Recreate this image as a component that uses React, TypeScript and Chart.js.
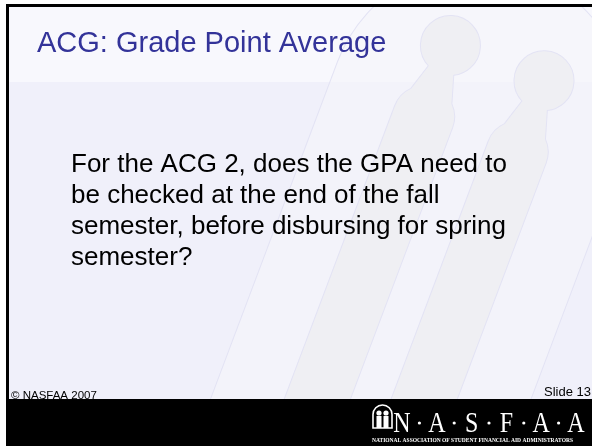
import React, { useEffect, useRef } from "react";
import { Chart, registerables } from "chart.js";

Chart.register(...registerables);

const TITLE = "ACG: Grade Point Average";
const BODY_LINES = [
  "For the ACG 2, does the GPA need to",
  "be checked at the end of the fall",
  "semester, before disbursing for spring",
  "semester?",
];
const FOOTER_LEFT = "© NASFAA 2007";
const FOOTER_RIGHT = "Slide 13";
const LOGO_LETTERS = ["N", "A", "S", "F", "A", "A"];
const LOGO_TAGLINE = "NATIONAL ASSOCIATION OF STUDENT FINANCIAL AID ADMINISTRATORS";

const W = 592;
const H = 446;

function archPath(ctx: CanvasRenderingContext2D, x0: number, x1: number, yTop: number, yBot: number) {
  const r = (x1 - x0) / 2;
  const cx = (x0 + x1) / 2;
  ctx.beginPath();
  ctx.moveTo(x0, yBot);
  ctx.lineTo(x0, yTop + r);
  ctx.arc(cx, yTop + r, r, Math.PI, 0, false);
  ctx.lineTo(x1, yBot);
  ctx.closePath();
}

function figurePath(ctx: CanvasRenderingContext2D, cx: number, headY: number, headR: number, bodyW: number, bodyTop: number, bodyBot: number) {
  ctx.beginPath();
  const hw = bodyW / 2;
  ctx.moveTo(cx - hw, bodyBot);
  ctx.lineTo(cx - hw, bodyTop + hw);
  ctx.arc(cx, bodyTop + hw, hw, Math.PI, Math.PI * 1.25, false);
  ctx.arc(cx, headY, headR, Math.PI * 0.65, Math.PI * 2.35, false);
  ctx.arc(cx, bodyTop + hw, hw, Math.PI * 1.75, 0, false);
  ctx.lineTo(cx + hw, bodyBot);
  ctx.closePath();
}

const slidePlugin = {
  id: "slide",
  beforeDraw(chart: any) {
    const ctx: CanvasRenderingContext2D = chart.ctx;
    ctx.save();
    ctx.fillStyle = "#ffffff";
    ctx.fillRect(0, 0, W, H);
    ctx.fillStyle = "#f0f0fa";
    ctx.fillRect(9, 7, W - 9, 392);
    ctx.fillStyle = "#f8f8fd";
    ctx.fillRect(9, 7, W - 9, 75);

    // faint watermark
    ctx.save();
    ctx.beginPath();
    ctx.rect(9, 7, W - 9, 392);
    ctx.clip();
    ctx.translate(425, 255);
    ctx.rotate(0.36);
    ctx.lineWidth = 1;
    ctx.strokeStyle = "#e3e3f4";
    archPath(ctx, -150, 150, -300, 260);
    ctx.fillStyle = "rgba(245,245,250,0.6)";
    ctx.fill();
    ctx.stroke();
    ctx.fillStyle = "#efeff3";
    figurePath(ctx, -50, -205, 30, 62, -160, 270);
    ctx.fill();
    ctx.stroke();
    figurePath(ctx, 50, -205, 30, 62, -160, 270);
    ctx.fill();
    ctx.stroke();
    ctx.restore();

    ctx.fillStyle = "#000000";
    ctx.fillRect(6, 4, W - 6, 3);
    ctx.fillRect(6, 4, 3, H - 4);
    ctx.restore();
  },
  afterDraw(chart: any) {
    const ctx: CanvasRenderingContext2D = chart.ctx;
    ctx.save();
    ctx.textBaseline = "alphabetic";
    ctx.textAlign = "left";
    ctx.fillStyle = "#333399";
    ctx.font = '29px "Liberation Sans", Arial, sans-serif';
    ctx.fillText(TITLE, 37, 52);
    ctx.fillStyle = "#000000";
    ctx.font = '26px "Liberation Sans", Arial, sans-serif';
    BODY_LINES.forEach((line, i) => {
      ctx.fillText(line, 71, 172 + i * 31);
    });
    ctx.font = '11.5px "Liberation Sans", Arial, sans-serif';
    ctx.fillText(FOOTER_LEFT, 11, 399);
    ctx.textAlign = "right";
    ctx.font = '13px "Liberation Sans", Arial, sans-serif';
    ctx.fillText(FOOTER_RIGHT, 591, 396);

    ctx.fillStyle = "#000000";
    ctx.fillRect(6, 399, W - 6, H - 399);

    // logo icon
    ctx.fillStyle = "#ffffff";
    ctx.strokeStyle = "#ffffff";
    ctx.save();
    ctx.lineWidth = 1.6;
    archPath(ctx, 373, 392, 405, 428);
    ctx.stroke();
    ctx.beginPath();
    ctx.arc(379, 413, 2.6, 0, Math.PI * 2);
    ctx.fill();
    ctx.beginPath();
    ctx.arc(386, 413, 2.6, 0, Math.PI * 2);
    ctx.fill();
    ctx.fillRect(376.5, 416, 5, 12);
    ctx.fillRect(383.5, 416, 5, 12);
    ctx.restore();

    // logo letters
    ctx.textAlign = "center";
    ctx.font = '30px "Liberation Serif", "Times New Roman", serif';
    const first = 402;
    const step = 34.8;
    LOGO_LETTERS.forEach((ch, i) => {
      const cx = first + i * step;
      ctx.save();
      ctx.translate(cx, 432);
      ctx.scale(0.8, 1);
      ctx.fillText(ch, 0, 0);
      ctx.restore();
      if (i < LOGO_LETTERS.length - 1) {
        ctx.beginPath();
        ctx.arc(cx + step / 2, 423, 1.6, 0, Math.PI * 2);
        ctx.fill();
      }
    });
    ctx.textAlign = "left";
    ctx.font = 'bold 5.5px "Liberation Serif", serif';
    ctx.fillText(LOGO_TAGLINE, 372, 442, 216);
    ctx.restore();
  },
};

export default function App() {
  const ref = useRef<HTMLCanvasElement | null>(null);
  useEffect(() => {
    if (!ref.current) return;
    const chart = new Chart(ref.current, {
      type: "scatter",
      data: { datasets: [{ data: [] as any[] }] },
      options: {
        responsive: false,
        animation: false,
        devicePixelRatio: 1,
        layout: { padding: 0 },
        scales: { x: { display: false }, y: { display: false } },
        plugins: { legend: { display: false }, tooltip: { enabled: false }, title: { display: false } },
      },
      plugins: [slidePlugin],
    });
    return () => chart.destroy();
  }, []);
  return (
    <div style={{ position: "fixed", left: 0, top: 0, width: W, height: H, background: "#fff" }}>
      <canvas ref={ref} width={W} height={H} style={{ width: W, height: H, display: "block" }} />
    </div>
  );
}
